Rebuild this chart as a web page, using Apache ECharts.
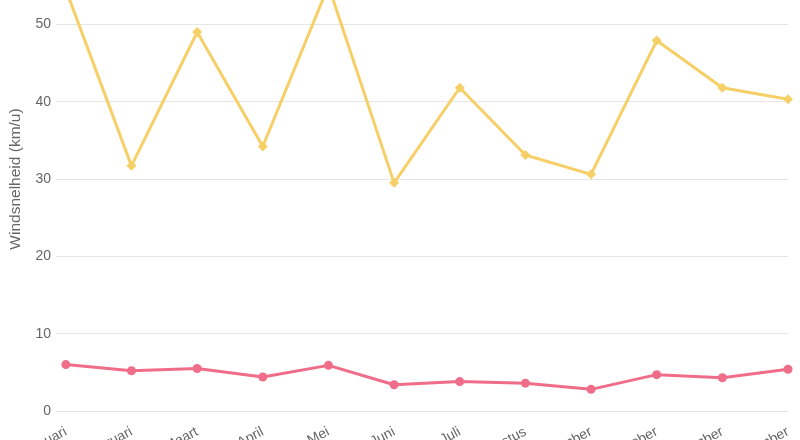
<!DOCTYPE html>
<html>
<head>
<meta charset="utf-8">
<script src="https://cdn.jsdelivr.net/npm/echarts@6/dist/echarts.min.js"></script>
<style>html,body{margin:0;padding:0;background:#fff}#c{width:800px;height:440px}</style>
</head>
<body>
<div id="c"></div>
<script>
const months = ['Januari','Februari','Maart','April','Mei','Juni','Juli','Augustus','September','Oktober','November','December'];
const maxWind = [54.5, 31.7, 49.0, 34.2, 55.0, 29.5, 41.8, 33.1, 30.6, 47.9, 41.8, 40.3];
const avgWind = [6.0, 5.2, 5.5, 4.4, 5.9, 3.4, 3.8, 3.6, 2.8, 4.7, 4.3, 5.4];
const yTicks = [0, 10, 20, 30, 40, 50, 60];
const yTitle = 'Windsnelheid (km/u)';

const chart = echarts.init(document.getElementById('c'), null, {renderer: 'canvas'});
const idx = months.map((m, i) => i);
const font = 'Liberation Sans, Arial, Helvetica, sans-serif';
chart.setOption({
  animation: false,
  textStyle: {fontFamily: font},
  grid: {left: 56, right: 12, top: -53, bottom: 29, containLabel: false, outerBoundsMode: 'none'},
  xAxis: {
    type: 'value', min: -0.15, max: months.length - 1,
    axisLine: {show: false}, axisTick: {show: false}, splitLine: {show: false},
    axisLabel: {
      customValues: idx, rotate: 28, margin: 20, color: '#666', fontSize: 14, fontFamily: font,
      formatter: v => months[Math.round(v)]
    }
  },
  yAxis: {
    type: 'value', min: yTicks[0], max: yTicks[yTicks.length - 1], interval: 10,
    name: yTitle, nameLocation: 'middle', nameGap: 32, nameRotate: 90,
    nameTextStyle: {color: '#666', fontSize: 15.5, fontFamily: font},
    axisLine: {show: false}, axisTick: {show: false},
    axisLabel: {color: '#666', fontSize: 14, margin: 5, fontFamily: font},
    splitLine: {lineStyle: {color: '#e5e5e5', width: 1}}
  },
  series: [
    {
      type: 'line', data: maxWind.map((v, i) => [idx[i], v]),
      symbol: 'diamond', symbolSize: 10,
      lineStyle: {color: '#f6cf66', width: 3},
      itemStyle: {color: '#f6cf66'}
    },
    {
      type: 'line', data: avgWind.map((v, i) => [idx[i], v]),
      symbol: 'circle', symbolSize: 9,
      lineStyle: {color: '#ef6d88', width: 3},
      itemStyle: {color: '#ef6d88'}
    }
  ]
});
</script>
</body>
</html>
